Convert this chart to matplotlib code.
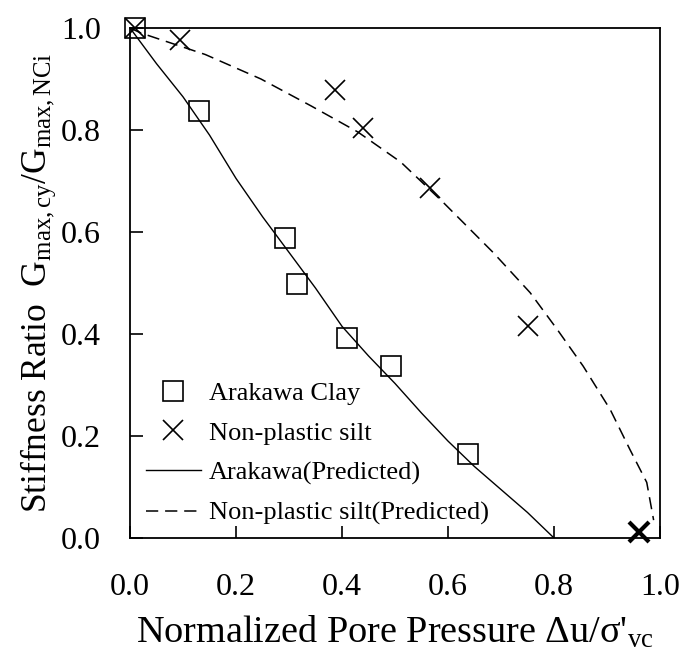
import matplotlib
matplotlib.use('Agg')
import matplotlib.pyplot as plt

plt.rcParams['font.family'] = ['Liberation Serif', 'DejaVu Serif']
plt.rcParams['mathtext.fontset'] = 'custom'
plt.rcParams['mathtext.rm'] = 'Liberation Serif'
plt.rcParams['mathtext.it'] = 'Liberation Serif:italic'

# measured points
clay_x = [0.01, 0.13, 0.292, 0.315, 0.409, 0.492, 0.638]
clay_y = [1.0, 0.838, 0.588, 0.498, 0.392, 0.337, 0.165]

silt_x = [0.01, 0.094, 0.387, 0.44, 0.566, 0.751]
silt_y = [1.0, 0.977, 0.879, 0.804, 0.687, 0.415]
silt_end_x = [0.96]
silt_end_y = [0.012]

# predicted curves
clay_pred_x = [0, 0.05, 0.1, 0.15, 0.2, 0.25, 0.3, 0.35, 0.4, 0.45, 0.5,
               0.55, 0.6, 0.65, 0.7, 0.75, 0.8]
clay_pred_y = [1.0, 0.93, 0.865, 0.79, 0.705, 0.63, 0.56, 0.49, 0.415,
               0.357, 0.303, 0.245, 0.19, 0.14, 0.095, 0.05, 0.0]

silt_pred_x = [0.0, 0.021, 0.142, 0.247, 0.342, 0.43, 0.511, 0.591, 0.685,
               0.755, 0.806, 0.855, 0.906, 0.943, 0.975, 0.988]
silt_pred_y = [1.0, 0.99, 0.948, 0.90, 0.847, 0.796, 0.737, 0.658, 0.56,
               0.481, 0.409, 0.337, 0.252, 0.174, 0.109, 0.035]

fig = plt.figure(figsize=(6.79, 6.51), dpi=100)
ax = fig.add_axes([0.1915, 0.1736, 0.7805, 0.7834])

ax.plot(clay_x, clay_y, 's', ms=14, mfc='none', mec='black', mew=1.2,
        label='Arakawa Clay', clip_on=False, zorder=3)
ax.plot(silt_x, silt_y, 'x', ms=14, mec='black', mew=1.2,
        label='Non-plastic silt', clip_on=False, zorder=3)
ax.plot(silt_end_x, silt_end_y, 'x', ms=14, mec='black', mew=3,
        clip_on=False, zorder=3)
ax.plot(clay_pred_x, clay_pred_y, '-', color='black', lw=1.0,
        label='Arakawa(Predicted)')
ax.plot(silt_pred_x, silt_pred_y, '--', color='black', lw=1.1,
        dashes=(8, 4.5), label='Non-plastic silt(Predicted)')

ax.set_xlim(0, 1)
ax.set_ylim(0, 1)
ax.set_xticks([0, 0.2, 0.4, 0.6, 0.8, 1.0])
ax.set_yticks([0, 0.2, 0.4, 0.6, 0.8, 1.0])
ax.set_xticklabels(['0.0', '0.2', '0.4', '0.6', '0.8', '1.0'])
ax.set_yticklabels(['0.0', '0.2', '0.4', '0.6', '0.8', '1.0'])
ax.tick_params(axis='x', direction='in', length=9, width=1.2, pad=25,
               labelsize=23)
ax.tick_params(axis='y', direction='in', length=9, width=1.2, pad=21,
               labelsize=23)
for s in ax.spines.values():
    s.set_linewidth(1.3)

ax.set_xlabel("Normalized Pore Pressure Δu/σ'$_{\\mathrm{vc}}$",
              fontsize=27.5, labelpad=9)
ax.set_ylabel("Stiffness Ratio  G$_{\\mathrm{max,cy}}$/G$_{\\mathrm{max,NCi}}$",
              fontsize=25.5, labelpad=2)

ax.legend(loc='lower left', bbox_to_anchor=(0.0, -0.006), frameon=False,
          fontsize=19, handlelength=2.08, handletextpad=0.3,
          labelspacing=0.62, borderaxespad=0.2)

fig.savefig('out.png', dpi=100)
